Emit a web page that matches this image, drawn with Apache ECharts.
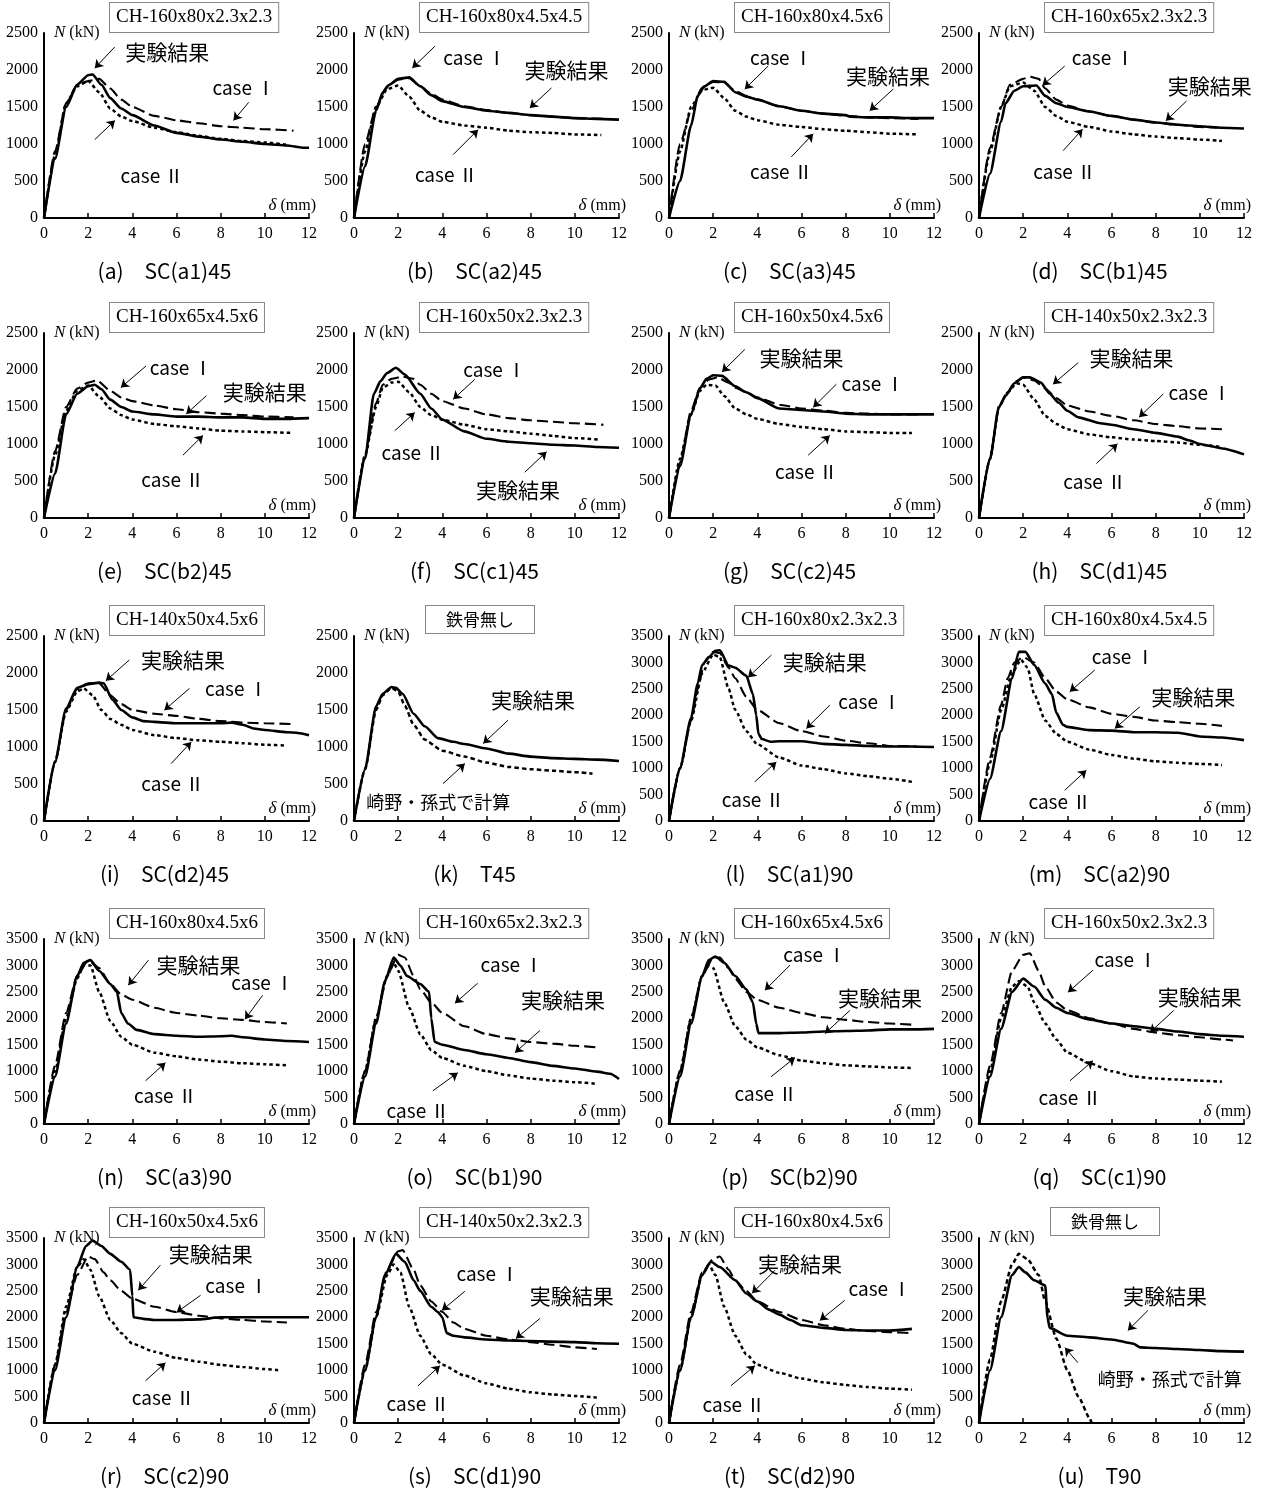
<!DOCTYPE html>
<html><head><meta charset="utf-8">
<script src="https://cdn.jsdelivr.net/npm/echarts@6/dist/echarts.min.js"></script>
<style>html,body{margin:0;padding:0;background:#fff}#c{width:1269px;height:1488px}</style>
</head><body><div id="c"></div>
<script>
// ---------- data (δ mm, N kN) ----------
const a_exp=[[0,0],[0.5,800],[1,1500],[1.5,1800],[2,1930],[2.2,1940],[2.6,1800],[3,1620],[3.5,1480],[4,1390],[5,1250],[6,1150],[7,1100],[8,1060],[9,1030],[10,1000],[11,980],[11.7,950],[12,950]];
const a_c1=[[0,0],[0.5,900],[1,1550],[1.5,1800],[2,1850],[2.5,1880],[3,1750],[3.5,1600],[4,1500],[5,1380],[6,1320],[7,1280],[8,1240],[9,1220],[10,1200],[11.3,1180]];
const a_c2=[[0,0],[0.5,850],[1,1550],[1.5,1780],[2,1850],[2.5,1700],[3,1480],[3.5,1370],[4,1310],[5,1220],[6,1160],[7,1110],[8,1070],[9,1040],[10,1020],[11,990]];

const b_exp=[[0,0],[0.5,700],[1,1450],[1.3,1700],[1.6,1800],[2,1880],[2.5,1900],[3,1780],[3.5,1660],[4,1580],[5,1500],[6,1450],[7,1420],[8,1390],[9,1370],[10,1350],[11,1340],[12,1330]];
const b_c1=[[0,0],[0.5,1000],[1,1500],[1.5,1780],[2,1870],[2.5,1890],[3,1780],[3.5,1680],[4,1600],[5,1510],[6,1460],[7,1420],[8,1390],[9,1370],[10,1350],[11.3,1340]];
const b_c2=[[0,0],[0.5,900],[1,1500],[1.5,1740],[2,1790],[2.5,1640],[3,1450],[3.5,1360],[4,1300],[5,1250],[6,1220],[7,1180],[8,1160],[9,1150],[10,1130],[11.2,1120]];

const c_exp=[[0,0],[0.5,500],[1,1250],[1.3,1650],[1.6,1780],[2,1850],[2.5,1840],[3,1700],[3.5,1640],[4,1600],[5,1510],[6,1450],[7,1410],[8,1390],[8.2,1370],[9,1360],[10,1360],[11,1350],[12,1350]];
const c_c1=[[0,0],[0.5,1000],[1,1450],[1.5,1760],[2,1840],[2.5,1830],[3,1720],[3.5,1650],[4,1600],[5,1510],[6,1450],[7,1410],[8,1380],[9,1360],[10,1350],[11.3,1340]];
const c_c2=[[0,0],[0.5,900],[1,1500],[1.5,1730],[2,1760],[2.5,1620],[3,1450],[3.5,1370],[4,1320],[5,1260],[6,1230],[7,1200],[8,1180],[9,1160],[10,1140],[11.2,1130]];

const d_exp=[[0,0],[0.5,600],[1,1300],[1.2,1550],[1.6,1720],[2,1780],[2.6,1790],[3,1650],[3.5,1550],[4,1500],[5,1440],[6,1380],[7,1330],[8,1290],[9,1260],[10,1240],[11,1220],[12,1210]];
const d_c1=[[0,0],[0.5,950],[1,1500],[1.4,1800],[2,1880],[2.3,1910],[2.7,1880],[3,1750],[3.5,1600],[4,1520],[5,1440],[6,1380],[7,1330],[8,1290],[9,1260],[10,1230],[10.8,1220]];
const d_c2=[[0,0],[0.5,900],[1,1500],[1.4,1780],[2,1830],[2.5,1720],[3,1500],[3.5,1380],[4,1300],[5,1230],[6,1170],[7,1130],[8,1100],[9,1080],[10,1060],[11,1040]];

const e_exp=[[0,0],[0.5,600],[1,1400],[1.5,1680],[2,1780],[2.3,1800],[2.6,1740],[3,1600],[3.5,1500],[4,1440],[5,1400],[6,1370],[7,1370],[8,1360],[9,1360],[10,1340],[11,1340],[12,1350]];
const e_c1=[[0,0],[0.5,900],[1,1500],[1.5,1750],[2,1830],[2.4,1860],[3,1720],[3.5,1630],[4,1580],[5,1520],[6,1470],[7,1430],[8,1410],[9,1390],[10,1370],[11.3,1360]];
const e_c2=[[0,0],[0.5,850],[1,1450],[1.5,1720],[2,1790],[2.5,1640],[3,1480],[3.5,1390],[4,1330],[5,1270],[6,1240],[7,1210],[8,1180],[9,1170],[10,1160],[11.2,1150]];

const f_exp=[[0,0],[0.5,800],[0.9,1680],[1.2,1850],[1.5,1960],[1.9,2030],[2.3,1940],[3,1680],[3.5,1480],[4,1330],[5,1170],[6,1070],[7,1030],[8,1010],[9,990],[10,980],[11,960],[12,950]];
const f_c1=[[0,0],[0.5,850],[1,1550],[1.3,1800],[1.7,1880],[2.2,1910],[2.7,1880],[3,1800],[3.5,1680],[4,1580],[5,1480],[6,1400],[7,1350],[8,1320],[9,1300],[10,1280],[11.3,1260]];
const f_c2=[[0,0],[0.5,850],[1,1500],[1.3,1760],[1.7,1830],[2,1840],[2.5,1700],[3,1500],[3.5,1390],[4,1330],[5,1260],[6,1200],[7,1170],[8,1140],[9,1110],[10,1080],[11.1,1060]];

const g_exp=[[0,0],[0.5,700],[1,1400],[1.4,1750],[1.7,1880],[2,1930],[2.4,1920],[3,1780],[3.5,1700],[4,1620],[5,1480],[6,1460],[7,1440],[8,1410],[9,1400],[10,1400],[11,1400],[12,1400]];
const g_c1=[[0,0],[0.5,750],[1,1450],[1.4,1760],[1.8,1870],[2.2,1900],[2.7,1830],[3,1760],[3.5,1700],[4,1630],[5,1530],[6,1480],[7,1450],[8,1420],[9,1410],[10,1400],[11.3,1400]];
const g_c2=[[0,0],[0.5,800],[1,1400],[1.4,1720],[1.7,1800],[2.1,1790],[2.5,1650],[3,1480],[3.5,1400],[4,1340],[5,1270],[6,1230],[7,1200],[8,1170],[9,1160],[10,1150],[11,1150]];

const h_exp=[[0,0],[0.5,800],[0.9,1500],[1.2,1650],[1.6,1820],[2,1900],[2.3,1900],[2.8,1830],[3.2,1680],[3.6,1560],[4,1450],[4.5,1360],[5.5,1280],[6,1260],[7,1200],[8,1150],[9,1100],[9.5,1050],[10,1000],[10.5,970],[11,940],[12,860]];
const h_c1=[[0,0],[0.5,800],[0.9,1500],[1.3,1700],[1.7,1850],[2,1900],[2.5,1860],[3,1750],[3.5,1620],[4,1520],[5,1440],[6,1380],[7,1320],[8,1270],[9,1240],[10,1210],[11,1200]];
const h_c2=[[0,0],[0.5,800],[0.9,1500],[1.3,1700],[1.7,1820],[2,1800],[2.5,1600],[3,1380],[3.5,1270],[4,1200],[5,1130],[6,1090],[7,1060],[8,1040],[9,1020],[10,990],[11,960]];

const i_exp=[[0,0],[0.5,800],[1,1520],[1.5,1800],[2,1850],[2.5,1870],[2.7,1860],[3.1,1640],[3.5,1500],[4,1400],[4.5,1350],[5,1340],[6,1320],[7,1320],[8,1320],[8.5,1330],[9,1300],[9.5,1250],[10,1230],[11,1200],[11.5,1190],[12,1160]];
const i_c1=[[0,0],[0.5,800],[1,1500],[1.5,1780],[2,1860],[2.5,1860],[3,1700],[3.5,1580],[4,1500],[5,1450],[6,1420],[7,1380],[8,1350],[9,1330],[10,1320],[11.2,1310]];
const i_c2=[[0,0],[0.5,800],[1,1480],[1.5,1750],[1.8,1790],[2.2,1700],[2.6,1500],[3,1380],[3.5,1300],[4,1230],[5,1160],[6,1120],[7,1090],[8,1070],[9,1050],[10,1030],[11,1020]];

const k_exp=[[0,0],[0.5,700],[1,1550],[1.3,1720],[1.7,1810],[1.9,1800],[2.2,1720],[2.7,1450],[3.2,1280],[3.8,1120],[4.5,1070],[5,1040],[6,980],[7,910],[8,870],[9,850],[10,840],[11,830],[12,810]];
const k_calc=[[0,0],[0.5,700],[1,1500],[1.3,1700],[1.7,1800],[2,1750],[2.3,1560],[2.7,1300],[3.2,1100],[4,950],[5,870],[6,790],[7,730],[8,700],[9,680],[10,660],[10.8,640]];

const l_exp=[[0,0],[0.5,1000],[1,1950],[1.3,2600],[1.5,2950],[1.8,3100],[2.1,3220],[2.3,3230],[2.7,2940],[3,2900],[3.5,2750],[3.8,2400],[3.95,2000],[4.05,1650],[4.2,1550],[4.6,1500],[5,1510],[6,1510],[7,1460],[8,1440],[9,1420],[10,1410],[11,1410],[12,1400]];
const l_c1=[[0,0],[0.5,1000],[1,1900],[1.3,2500],[1.6,3000],[2,3200],[2.3,3180],[2.7,2900],[3,2700],[3.5,2350],[4,2100],[5,1850],[6,1700],[7,1600],[8,1520],[9,1470],[10,1420],[11.2,1410]];
const l_c2=[[0,0],[0.5,1000],[1,1900],[1.5,2800],[2,3150],[2.3,3100],[2.7,2500],[3,2100],[3.5,1700],[4,1450],[5,1200],[6,1050],[7,980],[8,900],[9,850],[10,800],[11,740]];

const m_exp=[[0,0],[0.5,800],[1,1700],[1.5,2700],[1.8,3200],[2.1,3200],[2.5,2950],[3,2600],[3.3,2400],[3.5,2050],[3.8,1820],[4,1780],[5,1720],[6,1710],[7,1680],[8,1680],[9,1670],[10,1600],[11,1580],[12,1530]];
const m_c1=[[0,0],[0.5,1200],[1,2200],[1.3,2700],[1.6,3000],[2,3100],[2.5,3000],[3,2700],[3.5,2450],[4,2300],[5,2150],[6,2030],[7,1970],[8,1900],[9,1870],[10,1840],[11,1800]];
const m_c2=[[0,0],[0.5,1100],[1,2100],[1.5,2800],[1.9,3050],[2.2,2900],[2.5,2400],[3,1900],[3.5,1650],[4,1500],[5,1350],[6,1250],[7,1180],[8,1130],[9,1100],[10,1080],[11,1060]];

const n_exp=[[0,0],[0.5,900],[1,1900],[1.5,2800],[1.8,3050],[2.1,3100],[2.5,2900],[3,2650],[3.3,2500],[3.5,2100],[3.8,1900],[4.2,1780],[5,1700],[6,1670],[7,1650],[8,1660],[8.5,1670],[9,1640],[10,1600],[11,1570],[12,1550]];
const n_c1=[[0,0],[0.5,1100],[1,2100],[1.5,2800],[2,3100],[2.5,2950],[3,2650],[3.5,2450],[4,2350],[5,2200],[6,2100],[7,2050],[8,2000],[9,1970],[10,1930],[11,1900]];
const n_c2=[[0,0],[0.5,1000],[1,2000],[1.5,2750],[1.8,3000],[2.1,3000],[2.5,2500],[3,1950],[3.5,1650],[4,1500],[5,1350],[6,1280],[7,1220],[8,1180],[9,1150],[10,1130],[11,1110]];

const o_exp=[[0,0],[0.5,900],[1,1900],[1.4,2700],[1.8,3150],[2.1,3000],[2.4,2800],[3,2650],[3.4,2500],[3.5,2000],[3.65,1550],[4,1500],[5,1400],[6,1320],[7,1250],[8,1170],[9,1100],[10,1050],[11,990],[11.6,950],[12,850]];
const o_c1=[[0,0],[0.5,1000],[1,2000],[1.5,2800],[2,3200],[2.3,3150],[2.7,2800],[3,2550],[3.5,2300],[4,2100],[5,1850],[6,1700],[7,1620],[8,1550],[9,1520],[10,1480],[11,1450]];
const o_c2=[[0,0],[0.5,1000],[1,2000],[1.5,2800],[1.8,3050],[2,2900],[2.5,2200],[3,1700],[3.5,1400],[4,1250],[5,1100],[6,1000],[7,920],[8,860],[9,820],[10,790],[11,760]];

const p_exp=[[0,0],[0.5,900],[1,1900],[1.5,2800],[1.8,3100],[2.1,3170],[2.5,3050],[3,2800],[3.5,2550],[3.8,2300],[3.95,1900],[4.05,1720],[5,1720],[6,1730],[7,1750],[8,1760],[9,1770],[10,1790],[11,1790],[12,1800]];
const p_c1=[[0,0],[0.5,1000],[1,2000],[1.5,2800],[2,3150],[2.3,3150],[2.7,2950],[3,2750],[3.5,2500],[4,2350],[5,2200],[6,2100],[7,2020],[8,1970],[9,1930],[10,1900],[11,1880]];
const p_c2=[[0,0],[0.5,1000],[1,2000],[1.5,2800],[1.8,3000],[2,2950],[2.5,2300],[3,1850],[3.5,1600],[4,1450],[5,1300],[6,1200],[7,1150],[8,1110],[9,1090],[10,1070],[11,1060]];

const q_exp=[[0,0],[0.5,900],[1,1800],[1.5,2500],[2,2750],[2.5,2600],[3,2350],[3.5,2200],[4,2100],[5,1980],[6,1900],[7,1850],[8,1800],[9,1750],[10,1700],[11,1670],[12,1650]];
const q_c1=[[0,0],[0.5,1100],[1,2100],[1.5,2900],[2,3200],[2.3,3230],[2.7,2900],[3,2600],[3.5,2300],[4,2150],[5,2000],[6,1900],[7,1800],[8,1730],[9,1680],[10,1640],[11,1600],[11.5,1580]];
const q_c2=[[0,0],[0.5,1000],[1,2000],[1.5,2600],[1.8,2700],[2.2,2600],[2.5,2300],[3,1900],[3.5,1600],[4,1350],[5,1150],[6,1000],[7,900],[8,860],[9,840],[10,820],[11,800]];

const r_exp=[[0,0],[0.5,1000],[1,2000],[1.5,2950],[1.9,3350],[2.2,3450],[2.6,3350],[3,3200],[3.5,3050],[3.9,2900],[4,2400],[4.05,2000],[4.5,1970],[5,1950],[6,1950],[7,1960],[8,2000],[9,2000],[10,2000],[11,2000],[12,2000]];
const r_c1=[[0,0],[0.5,1100],[1,2100],[1.5,2800],[2,3150],[2.3,3100],[2.7,2850],[3,2700],[3.5,2500],[4,2350],[5,2200],[6,2100],[7,2030],[8,1980],[9,1950],[10,1920],[11,1900]];
const r_c2=[[0,0],[0.5,1100],[1,2200],[1.5,2950],[1.8,3100],[2.1,2900],[2.5,2400],[3,1950],[3.5,1700],[4,1500],[5,1350],[6,1230],[7,1160],[8,1100],[9,1060],[10,1020],[10.6,1000]];

const s_exp=[[0,0],[0.5,1000],[1,2000],[1.4,2800],[1.9,3200],[2.3,3050],[2.7,2700],[3,2500],[3.5,2200],[3.8,2100],[4,2000],[4.2,1700],[4.5,1650],[5,1620],[6,1580],[7,1560],[8,1550],[9,1540],[10,1530],[11,1510],[12,1500]];
const s_c1=[[0,0],[0.5,1100],[1,2100],[1.5,2900],[2,3250],[2.2,3270],[2.7,2900],[3,2600],[3.5,2300],[4,2100],[4.5,1900],[5,1780],[6,1650],[7,1580],[8,1530],[9,1480],[10,1430],[11,1400]];
const s_c2=[[0,0],[0.5,1000],[1,2000],[1.5,2800],[1.8,3000],[2.1,2850],[2.5,2200],[3,1650],[3.5,1300],[4,1100],[5,900],[6,750],[7,650],[8,580],[9,540],[10,510],[11,480]];

const t_exp=[[0,0],[0.5,1000],[1,2000],[1.5,2800],[1.9,3050],[2.3,2950],[3,2700],[3.5,2450],[4,2300],[4.5,2150],[5,2050],[5.5,1950],[6,1850],[7,1800],[8,1760],[9,1750],[10,1750],[11,1780]];
const t_c1=[[0,0],[0.5,1100],[1,2100],[1.5,2850],[2,3100],[2.3,3150],[2.7,2900],[3,2700],[3.5,2500],[4,2300],[5,2100],[6,1950],[7,1850],[8,1780],[9,1740],[10,1720],[11,1700]];
const t_c2=[[0,0],[0.5,1000],[1,2000],[1.5,2800],[1.8,3000],[2.1,2800],[2.5,2200],[3,1650],[3.5,1300],[4,1100],[5,950],[6,840],[7,770],[8,720],[9,680],[10,650],[11,630]];

const u_exp=[[0,0],[0.5,1000],[1,2000],[1.5,2800],[1.8,2950],[2.1,2850],[2.5,2700],[3,2600],[3.1,2000],[3.2,1800],[4,1650],[5,1620],[6,1580],[7,1500],[7.3,1430],[8,1420],[9,1400],[10,1380],[11,1360],[12,1350]];
const u_calc=[[0,0],[0.5,1200],[1,2300],[1.5,3000],[1.8,3200],[2.2,3100],[2.7,2800],[3,2300],[3.5,1600],[4,1000],[4.5,500],[5,100],[5.1,0]];

// tick labels
const xTicks=[0,2,4,6,8,10,12];
const yTicks2500=[0,500,1000,1500,2000,2500];
const yTicks3500=[0,500,1000,1500,2000,2500,3000,3500];

// panel texts
const EXP='実験結果', C1='case Ⅰ', C2='case Ⅱ', SK='崎野・孫式で計算';
const captions=['(a)　SC(a1)45','(b)　SC(a2)45','(c)　SC(a3)45','(d)　SC(b1)45',
 '(e)　SC(b2)45','(f)　SC(c1)45','(g)　SC(c2)45','(h)　SC(d1)45',
 '(i)　SC(d2)45','(k)　T45','(l)　SC(a1)90','(m)　SC(a2)90',
 '(n)　SC(a3)90','(o)　SC(b1)90','(p)　SC(b2)90','(q)　SC(c1)90',
 '(r)　SC(c2)90','(s)　SC(d1)90','(t)　SC(d2)90','(u)　T90'];
const specs=['CH-160x80x2.3x2.3','CH-160x80x4.5x4.5','CH-160x80x4.5x6','CH-160x65x2.3x2.3',
 'CH-160x65x4.5x6','CH-160x50x2.3x2.3','CH-160x50x4.5x6','CH-140x50x2.3x2.3',
 'CH-140x50x4.5x6','鉄骨無し','CH-160x80x2.3x2.3','CH-160x80x4.5x4.5',
 'CH-160x80x4.5x6','CH-160x65x2.3x2.3','CH-160x65x4.5x6','CH-160x50x2.3x2.3',
 'CH-160x50x4.5x6','CH-140x50x2.3x2.3','CH-160x80x4.5x6','鉄骨無し'];
const yTickSets=[yTicks2500,yTicks2500,yTicks2500,yTicks2500,yTicks2500,yTicks2500,yTicks2500,yTicks2500,yTicks2500,yTicks2500,
 yTicks3500,yTicks3500,yTicks3500,yTicks3500,yTicks3500,yTicks3500,yTicks3500,yTicks3500,yTicks3500,yTicks3500];

// series per panel: [exp, caseI, caseII] or [exp, calc]
const panelSeries=[
 [a_exp,a_c1,a_c2],[b_exp,b_c1,b_c2],[c_exp,c_c1,c_c2],[d_exp,d_c1,d_c2],
 [e_exp,e_c1,e_c2],[f_exp,f_c1,f_c2],[g_exp,g_c1,g_c2],[h_exp,h_c1,h_c2],
 [i_exp,i_c1,i_c2],[k_exp,k_calc],[l_exp,l_c1,l_c2],[m_exp,m_c1,m_c2],
 [n_exp,n_c1,n_c2],[o_exp,o_c1,o_c2],[p_exp,p_c1,p_c2],[q_exp,q_c1,q_c2],
 [r_exp,r_c1,r_c2],[s_exp,s_c1,s_c2],[t_exp,t_c1,t_c2],[u_exp,u_calc]];

// annotations in data coords: [text, textX, textY, arrowFromX, arrowFromY, arrowToX, arrowToY]
const notes=[
 [[EXP,5.58,2242,3.2,2310,2.3,2025],[C1,9.05,1753,9.27,1563,8.58,1318],[C2,4.89,571,2.3,1060,3.21,1318]],
 [[C1,5.47,2162,3.66,2320,2.64,2027],[EXP,9.62,2005,8.94,1757,7.96,1486],[C2,4.18,586,4.49,856,5.62,1194]],
 [[C1,5.09,2165,4.49,2054,3.43,1741],[EXP,9.92,1920,10.15,1741,9.09,1451],[C2,5.09,625,5.54,826,6.53,1138]],
 [[C1,5.62,2164,3.88,2052,2.87,1792],[EXP,10.45,1783,9.4,1581,8.46,1313],[C2,3.88,618,3.81,909,4.69,1201]],
 [[C1,6.21,2031,4.62,2054,3.48,1763],[EXP,10.0,1696,7.35,1652,6.44,1406],[C2,5.83,513,6.29,848,7.2,1116]],
 [[C1,6.37,2007,5.47,1873,4.49,1604],[C2,2.67,887,1.84,1178,2.75,1425],[EXP,7.43,372,7.73,618,8.72,896]],
 [[EXP,6.0,2165,3.43,2277,2.4,1973],[C1,9.24,1808,7.58,1808,6.53,1496],[C2,6.22,625,6.3,848,7.28,1116]],
 [[EXP,6.9,2165,4.49,2098,3.35,1808],[C1,10.0,1696,8.34,1674,7.25,1362],[C2,5.24,491,5.32,737,6.27,1004]],
 [[EXP,6.29,2175,3.86,2175,2.8,1895],[C1,8.71,1792,6.59,1792,5.45,1498],[C2,5.83,505,5.76,776,6.67,1069]],
 [[EXP,8.11,1634,6.98,1363,5.85,1047],[SK,3.81,257,4.03,505,5.02,776]],
 [[EXP,7.05,3013,4.64,3140,3.58,2716],[C1,9.09,2255,7.28,2192,6.22,1750],[C2,3.81,392,3.88,739,4.86,1118]],
 [[C1,6.53,3108,5.24,2855,4.11,2445],[EXP,9.7,2350,7.28,2160,6.15,1750],[C2,3.66,360,3.88,581,4.86,960]],
 [[EXP,7.0,3005,4.73,3100,3.82,2625],[C1,9.9,2680,9.9,2435,9.1,1980],[C2,5.5,533,4.6,818,5.5,1160]],
 [[C1,7.15,3005,5.6,2663,4.57,2283],[EXP,9.46,2340,8.42,1769,7.29,1350],[C2,2.9,247,3.57,628,4.7,970]],
 [[C1,6.6,3195,5.48,3005,4.34,2530],[EXP,9.55,2378,8.19,2149,7.06,1712],[C2,4.39,570,4.62,894,5.7,1255]],
 [[C1,6.65,3100,5.16,2910,4.03,2492],[EXP,10.0,2397,8.82,2149,7.74,1731],[C2,4.12,494,4.12,818,5.16,1198]],
 [[EXP,7.55,3188,5.27,2985,4.27,2511],[C1,8.73,2587,7.09,2416,6.0,2092],[C2,5.4,476,4.6,799,5.5,1141]],
 [[C1,6.06,2815,5.02,2492,3.98,2130],[EXP,9.86,2397,8.42,1978,7.33,1598],[C2,2.9,361,2.9,704,3.89,1084]],
 [[EXP,5.93,3014,4.8,2891,3.76,2454],[C1,9.55,2530,7.96,2321,6.83,1940],[C2,2.94,342,2.8,704,3.89,1084]],
 [[EXP,8.42,2397,7.65,2130,6.74,1750],[SK,8.64,837,4.48,1141,3.89,1426]]
];

// ---------- layout ----------
const colL=[44,354,669,979];
const colW=265;
const rowT=[33,333,636,939,1238];
const rowH=185;

const SERIF='"Liberation Serif","Times New Roman",serif';
const GOTH='"Noto Sans CJK JP","Noto Sans",sans-serif';

const styles={
 exp:{color:'#000',width:2.6,type:'solid'},
 c1:{color:'#000',width:2.1,type:[11,5]},
 c2:{color:'#000',width:2.5,type:[3.5,3]},
 calc:{color:'#000',width:2.5,type:[4.5,3]}
};

const grid=[],xAxis=[],yAxis=[],series=[],graphic=[];
for(let p=0;p<20;p++){
 const r=Math.floor(p/4), c=p%4;
 const L=colL[c], T=rowT[r];
 grid.push({left:L,top:T,width:colW,height:rowH});
 xAxis.push({type:'value',gridIndex:p,min:xTicks[0],max:xTicks[xTicks.length-1],interval:xTicks[1]-xTicks[0],
  name:'{i|δ} (mm)',nameLocation:'end',nameGap:7,
  nameTextStyle:{align:'right',verticalAlign:'bottom',padding:[0,0,4,0],fontFamily:SERIF,fontSize:16,color:'#000',
   rich:{i:{fontStyle:'italic',fontFamily:SERIF,fontSize:17,color:'#000'}}},
  axisLine:{show:true,lineStyle:{color:'#000',width:2}},
  axisTick:{show:true,inside:true,length:5,lineStyle:{color:'#000',width:1.5}},
  axisLabel:{fontFamily:SERIF,fontSize:16,color:'#000',margin:8,formatter:v=>String(v)},
  splitLine:{show:false}});
 const yt=yTickSets[p];
 yAxis.push({type:'value',gridIndex:p,min:yt[0],max:yt[yt.length-1],interval:yt[1]-yt[0],
  name:'{i|N} (kN)',nameLocation:'end',nameGap:0,
  nameTextStyle:{align:'left',verticalAlign:'middle',padding:[0,0,0,10],fontFamily:SERIF,fontSize:16,color:'#000',
   rich:{i:{fontStyle:'italic',fontFamily:SERIF,fontSize:17,color:'#000'}}},
  axisLine:{show:true,lineStyle:{color:'#000',width:2}},
  axisTick:{show:false},
  axisLabel:{fontFamily:SERIF,fontSize:16,color:'#000',margin:6,formatter:v=>String(v)},
  splitLine:{show:false}});
 const ss=panelSeries[p];
 const kinds= ss.length===2 ? ['exp','calc'] : ['exp','c1','c2'];
 ss.forEach((d,j)=>{
  const s={type:'line',xAxisIndex:p,yAxisIndex:p,data:d,showSymbol:false,symbol:'none',smooth:0.2,smoothMonotone:'x',
   lineStyle:styles[kinds[j]],z:j===0?5:3,animation:false,silent:true};
  if(j===0){
   const ns=notes[p];
   s.markLine={silent:true,animation:false,symbol:['none','arrow'],symbolSize:[0,8],
    lineStyle:{color:'#000',width:1,type:'solid'},label:{show:false},
    data:ns.map(n=>[{coord:[n[3],n[4]],symbol:'none'},{coord:[n[5],n[6]],symbol:'arrow',symbolSize:8}])};
   s.markPoint={silent:true,animation:false,symbol:'circle',symbolSize:1,itemStyle:{color:'rgba(0,0,0,0)'},
    data:ns.map(n=>({coord:[n[1],n[2]],label:{show:true,position:'inside',formatter:n[0],color:'#000',
      fontFamily:GOTH,fontSize:n[0]===EXP?21:(n[0]===SK?18:19),fontWeight:'normal'}}))};
  }
  series.push(s);
 });
 // spec box
 const isT = specs[p]==='鉄骨無し';
 graphic.push({type:'text',x:L+(isT?72:66),y:T-30,silent:true,
  style:{text:specs[p],fill:'#000',font:(isT?'17px '+GOTH:'19px '+SERIF),
   align:'left',verticalAlign:'top',textAlign:'left',textVerticalAlign:'top',
   padding:isT?[5,20,5,20]:[5,6,5,6],borderColor:'#888',borderWidth:1,backgroundColor:'#fff'}});
 // caption
 graphic.push({type:'text',x:L+colW/2-12,y:T+rowH+53,silent:true,
  style:{text:captions[p],fill:'#000',font:'21px '+GOTH,align:'center',verticalAlign:'middle',textAlign:'center',textVerticalAlign:'middle'}});
}

const chart=echarts.init(document.getElementById('c'),null,{renderer:'canvas'});
chart.setOption({animation:false,backgroundColor:'#fff',grid,xAxis,yAxis,series,graphic});
</script></body></html>
